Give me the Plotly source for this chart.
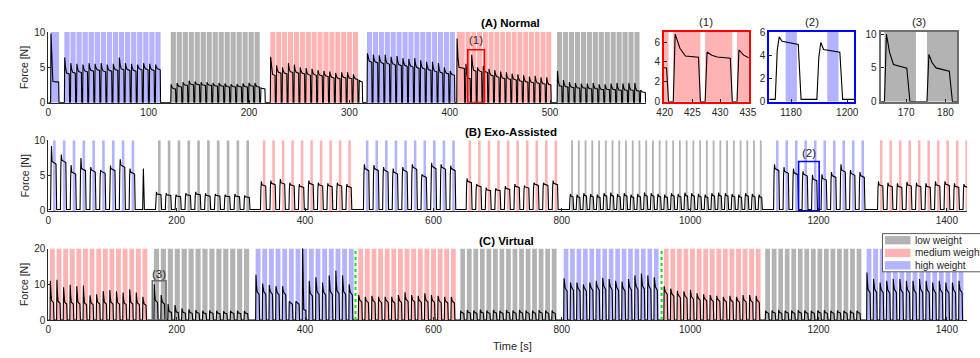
import plotly.graph_objects as go

W, H = 980, 358

# ---------------- colours per weight class ----------------
CLASS_COLOR = {'low': '#b3b3b3', 'med': '#ffb3b3', 'high': '#b3b3ff'}

# ---------------- Panel A (Normal) : blocks of lifting cycles ----------------
A_class = ['high', 'high', 'low', None, 'med', None, 'high', 'med', 'med', 'low', None]
A_start = [2.3, 16.0, 122.0, 211.5, 221.2, 309.5, 317.6, 407.0, 415.8, 507.0, 590.0]
A_end = [11.5, 112.7, 211.5, 216.5, 309.5, 313.5, 406.0, 415.8, 502.0, 590.0, 595.5]
A_peak = [
    [9.8],
    [6.4, 5.6, 5.5, 5.4, 5.6, 5.5, 5.6, 5.4, 5.5, 6.4, 5.6, 5.5, 5.4, 5.6, 5.5, 5.4],
    [2.6, 2.8, 2.9, 3.1, 3.0, 2.9, 2.9, 2.8, 2.8, 2.7, 2.6, 2.6, 2.7, 2.8, 2.8],
    [2.1],
    [6.5, 5.3, 5.0, 5.6, 5.4, 5.0, 4.9, 4.8, 4.6, 4.5, 4.4, 4.2, 4.3, 4.3, 4.0],
    [3.2],
    [7.0, 6.8, 6.7, 6.8, 6.5, 6.6, 6.3, 6.2, 6.3, 6.0, 5.8, 5.8, 5.6, 5.0, 4.5],
    [9.1],
    [5.5, 6.8, 5.0, 5.2, 4.8, 4.6, 4.4, 4.3, 4.1, 4.0, 3.9, 3.7, 3.8, 3.6, 3.6],
    [4.5, 3.2, 2.9, 2.8, 2.7, 2.7, 2.8, 2.6, 2.6, 2.7, 2.8, 2.7, 2.8, 2.8],
    [1.8],
]
A_plat = [
    [3.0],
    [4.2, 4.3, 4.4, 4.5, 4.6, 4.7, 4.5, 4.6, 4.7, 4.8, 4.7, 4.6, 4.8, 4.8, 4.7, 4.8],
    [2.0, 2.3, 2.5, 2.6, 2.6, 2.5, 2.5, 2.4, 2.4, 2.3, 2.3, 2.3, 2.3, 2.4, 2.3],
    [2.0],
    [4.0, 4.3, 4.2, 4.4, 4.3, 4.2, 4.0, 4.0, 3.9, 3.8, 3.6, 3.5, 3.6, 3.5, 3.4],
    [3.0],
    [5.9, 5.8, 5.7, 5.6, 5.5, 5.4, 5.3, 5.2, 5.0, 4.9, 4.7, 4.5, 4.3, 4.2, 4.0],
    [5.0],
    [3.5, 4.6, 4.5, 4.4, 3.9, 3.7, 3.5, 3.4, 3.3, 3.1, 3.0, 2.9, 2.8, 2.7, 2.6],
    [2.4, 2.3, 2.2, 2.1, 2.1, 2.0, 2.0, 1.9, 1.9, 1.9, 1.8, 1.8, 1.8, 1.7],
    [1.5],
]

# ---------------- Panel B (Exo-Assisted) ----------------
B_class = ['high', None, 'low', 'med', 'high', 'med', 'low', 'high', 'med']
B_start = [3.5, 147.0, 167.0, 330.5, 491.0, 651.0, 812.0, 1130.0, 1292.0]
B_end = [141.2, 151.5, 320.0, 478.5, 640.5, 800.0, 1116.5, 1278.0, 1440.0]
B_peak = [
    [9.2, 8.0, 6.5, 7.5, 6.2, 5.8, 6.4, 7.3, 6.0],
    [6.0],
    [2.7, 2.5, 2.3, 2.5, 2.7, 2.5, 2.4, 2.3, 2.4, 2.2],
    [4.2, 4.3, 4.5, 4.0, 3.8, 4.3, 4.0, 3.9, 4.0, 3.8],
    [6.6, 6.5, 6.2, 6.0, 6.2, 6.6, 5.2, 6.8, 6.6, 6.4],
    [4.6, 3.8, 3.3, 3.2, 3.5, 3.8, 3.6, 4.0, 4.0, 4.3],
    [2.4, 2.3, 2.5, 2.4, 2.3, 2.5, 2.6, 2.4, 2.5, 2.3, 2.4, 2.6, 2.5, 2.4, 2.3,
     2.5, 2.4, 2.6, 2.5, 2.4, 2.3, 2.5, 2.6, 2.5, 2.4, 2.3, 2.5, 2.4, 2.3],
    [6.6, 6.2, 6.0, 5.6, 5.1, 5.2, 5.5, 6.6, 5.8, 5.5],
    [4.2, 4.0, 3.9, 4.1, 4.0, 3.9, 4.2, 4.2, 3.9, 3.8],
]
B_plat = [
    [7.0, 7.2, 5.5, 6.0, 5.8, 5.6, 6.0, 6.5, 5.5],
    [1.0],
    [2.4, 2.3, 2.1, 2.3, 2.4, 2.2, 2.2, 2.1, 2.1, 2.0],
    [3.7, 3.9, 4.0, 3.7, 3.5, 3.9, 3.7, 3.6, 3.7, 3.5],
    [6.0, 6.0, 5.8, 5.5, 5.8, 6.2, 5.0, 6.3, 6.2, 6.0],
    [4.2, 3.6, 3.0, 3.0, 3.2, 3.5, 3.4, 3.8, 3.8, 3.9],
    [2.1, 2.0, 2.2, 2.1, 2.0, 2.2, 2.2, 2.1, 2.2, 2.0, 2.1, 2.2, 2.2, 2.1, 2.0,
     2.2, 2.1, 2.2, 2.2, 2.1, 2.0, 2.2, 2.2, 2.2, 2.1, 2.0, 2.2, 2.1, 2.0],
    [6.0, 5.6, 5.4, 5.2, 4.5, 4.6, 5.0, 5.8, 5.3, 5.0],
    [3.7, 3.6, 3.5, 3.7, 3.6, 3.5, 3.7, 3.8, 3.5, 3.5],
]

# ---------------- Panel C (Virtual) ----------------
C_class = ['med', 'low', 'high', 'med', 'low', 'high', 'med', 'low', 'high']
C_start = [2.6, 164.5, 323.0, 483.0, 642.0, 803.0, 959.0, 1117.0, 1275.0]
C_end = [157.1, 315.7, 478.6, 637.6, 794.6, 953.6, 1112.6, 1269.6, 1428.6]
C_peak = [
    [11.0, 11.3, 9.2, 9.9, 9.5, 9.7, 6.9, 7.2, 8.1, 8.4, 8.1, 7.7, 8.6, 7.7, 6.5],
    [10.0, 7.0, 4.5, 4.2, 3.3, 3.0, 2.8, 2.6, 2.7, 2.6, 2.5, 2.6, 2.6, 2.5],
    [12.7, 10.2, 9.8, 9.5, 9.5, 5.2, 5.2, 22.0, 11.0, 12.0, 10.5, 12.5, 13.8, 12.5, 10.0],
    [7.0, 6.5, 6.8, 6.5, 6.5, 6.5, 7.0, 7.8, 7.0, 6.8, 7.5, 7.0, 6.8, 6.5, 6.5],
    [2.6, 2.8, 2.7, 2.9, 2.7, 2.8, 2.6, 2.8, 2.7, 2.8, 2.7, 2.6, 2.8, 2.7, 2.7],
    [11.7, 10.5, 10.5, 10.0, 10.5, 11.0, 11.8, 11.5, 11.0, 10.8, 11.5, 12.5, 13.0, 12.5, 12.0],
    [9.5, 8.8, 8.2, 8.0, 8.5, 7.5, 7.2, 7.0, 6.8, 6.5, 6.8, 6.5, 7.0, 7.0, 6.8],
    [2.6, 2.7, 2.8, 2.6, 2.7, 2.8, 2.7, 2.6, 2.7, 2.8, 2.6, 2.7, 2.6, 2.7, 2.6],
    [13.3, 11.5, 10.5, 11.0, 11.5, 11.5, 11.0, 11.0, 11.5, 11.0, 10.5, 11.0, 10.5, 10.5, 11.0],
]
C_plat = [
    [5.5, 5.2, 5.0, 5.0, 5.0, 4.8, 4.8, 5.0, 5.0, 5.0, 4.9, 4.8, 5.0, 4.8, 4.6],
    [5.5, 5.0, 2.4, 2.3, 2.2, 2.1, 2.1, 2.0, 2.1, 2.0, 2.0, 2.1, 2.0, 2.0],
    [8.0, 8.0, 8.0, 7.8, 7.8, 4.9, 4.9, 3.0, 7.5, 8.0, 7.8, 8.0, 8.2, 8.0, 7.8],
    [5.6, 5.4, 5.5, 5.4, 5.5, 5.3, 5.5, 5.8, 5.6, 5.5, 5.6, 5.5, 5.4, 5.3, 5.3],
    [2.1, 2.2, 2.1, 2.2, 2.1, 2.2, 2.1, 2.2, 2.1, 2.2, 2.1, 2.1, 2.2, 2.1, 2.1],
    [9.0, 9.2, 9.0, 9.0, 9.2, 9.3, 9.5, 9.4, 9.2, 9.0, 9.3, 9.5, 9.6, 9.5, 9.3],
    [8.0, 7.4, 7.0, 6.8, 6.5, 6.2, 6.0, 5.8, 5.8, 5.6, 5.6, 5.5, 5.6, 5.5, 5.5],
    [2.1, 2.2, 2.1, 2.2, 2.1, 2.2, 2.1, 2.1, 2.2, 2.1, 2.1, 2.2, 2.1, 2.1, 2.1],
    [8.5, 8.6, 8.5, 8.4, 8.6, 8.5, 8.5, 8.4, 8.6, 8.5, 8.4, 8.5, 8.4, 8.5, 8.5],
]

# markers of zoomed regions and session separators
ZOOM1 = dict(t0=418.0, t1=434.6, top=7.5)
ZOOM2 = dict(t0=1169.0, t1=1201.0, top=7.0)
ZOOM3 = dict(t0=162.0, t1=183.4, top=11.0)
C_separators = [478.6, 955.5]

A_xticks = [0, 100, 200, 300, 400, 500]
BC_xticks = [0, 200, 400, 600, 800, 1000, 1200, 1400]


def build(kind, classes, starts, ends, peaks, plats):
    """Turn per-cycle readings into a force polyline and shaded hold strips."""
    base = 0.2 if kind == 'exo' else 0.0
    tx, ty = [0.0], [base]
    strips = {'low': [], 'med': [], 'high': []}
    for cls, t0, t1, pk_l, pl_l in zip(classes, starts, ends, peaks, plats):
        n = len(pk_l)
        P = (t1 - t0) / n
        for k in range(n):
            s = t0 + k * P
            pk, pl = pk_l[k], pl_l[k]
            if kind == 'hold':
                e = s + P - (0.85 if cls else 0.3)
                strip = (s, e)
                pts = [(s, 0), (s + 0.35, pk), (s + 1.2, pl + 0.35 * (pk - pl)),
                       (s + 2.2, pl), (e - 0.35, pl * 0.97), (e, 0)]
            elif kind == 'exo':
                on = 0.62 * P if cls else P * 0.6
                strip = (s + 0.25 * P, s + 0.52 * P)
                if cls:
                    pts = [(s, base), (s + 0.7, pl * 0.85), (s + 1.4, pk), (s + 2.4, pl),
                           (s + on - 1.0, pl * 0.95), (s + on, base)]
                else:
                    pts = [(s, base), (s + 0.4 * on, pk), (s + 0.7 * on, pl), (s + on, base)]
            else:  # virtual
                on = 0.6 * P
                strip = (s, s + P - 2.8)
                pts = [(s, 0), (s + 0.5, pk), (s + 1.3, pl + 0.4 * (pk - pl)),
                       (s + 2.3, pl), (s + on - 0.8, pl * 0.9), (s + on, 0)]
            if cls:
                strips[cls].append(strip)
            for x, y in pts:
                tx.append(x)
                ty.append(y)
    return tx, ty, strips


A_tx, A_ty, A_strips = build('hold', A_class, A_start, A_end, A_peak, A_plat)
B_tx, B_ty, B_strips = build('exo', B_class, B_start, B_end, B_peak, B_plat)
C_tx, C_ty, C_strips = build('virt', C_class, C_start, C_end, C_peak, C_plat)

fig = go.Figure()


def add_panel(tx, ty, strips, xa, ya, ymax):
    for cls in ['low', 'med', 'high']:
        xs, ys = [], []
        for s, e in strips[cls]:
            xs += [s, e, e, s, s, None]
            ys += [0, 0, ymax, ymax, 0, None]
        fig.add_trace(go.Scatter(x=xs, y=ys, fill='toself', fillcolor=CLASS_COLOR[cls],
                                 mode='none', xaxis=xa, yaxis=ya, showlegend=False,
                                 hoverinfo='skip'))
    fig.add_trace(go.Scatter(x=tx, y=ty, mode='lines', line=dict(color='black', width=1.1),
                             xaxis=xa, yaxis=ya, showlegend=False, hoverinfo='skip'))


add_panel(A_tx, A_ty, A_strips, 'x', 'y', 10)
add_panel(A_tx, A_ty, A_strips, 'x2', 'y2', 7)
add_panel(B_tx, B_ty, B_strips, 'x3', 'y3', 6)
add_panel(C_tx, C_ty, C_strips, 'x4', 'y4', 10.3)
add_panel(B_tx, B_ty, B_strips, 'x5', 'y5', 10)
add_panel(C_tx, C_ty, C_strips, 'x6', 'y6', 20)

FONT = 'Liberation Sans, Arial, sans-serif'
TXT = '#262626'


def px(x):
    return x / W


def py(y):
    return 1 - y / H


def main_axis(domain, rng, tickvals, anchor):
    return dict(domain=domain, range=rng, tickvals=tickvals, anchor=anchor,
                showline=True, linecolor=TXT, linewidth=1, mirror=False,
                ticks='inside', ticklen=3, tickcolor=TXT, showgrid=False, zeroline=False,
                tickfont=dict(size=10, color=TXT, family=FONT))


def zoom_axis(domain, rng, tickvals, anchor, color):
    return dict(domain=domain, range=rng, tickvals=tickvals, anchor=anchor,
                showline=True, linecolor=color, linewidth=2, mirror=True,
                ticks='inside', ticklen=3, tickcolor=TXT, showgrid=False, zeroline=False,
                tickfont=dict(size=10, color=TXT, family=FONT))


layout = dict(
    width=W, height=H, margin=dict(l=0, r=0, t=0, b=0),
    paper_bgcolor='white', plot_bgcolor='white', showlegend=False,
    font=dict(family=FONT, color=TXT),
    xaxis=main_axis([px(41), px(649)], [0, 596], A_xticks, 'y'),
    yaxis=main_axis([py(100), py(27)], [0, 10], [0, 5, 10], 'x'),
    xaxis2=zoom_axis([px(667), px(753)], [419.9, 435.15], [420, 425, 430, 435], 'y2', '#ff0000'),
    yaxis2=zoom_axis([py(99), py(27)], [0, 7], [0, 2, 4, 6], 'x2', '#ff0000'),
    xaxis3=zoom_axis([px(774), px(860)], [1172.3, 1202.4], [1180, 1200], 'y3', '#0000ff'),
    yaxis3=zoom_axis([py(99), py(27)], [0, 6], [0, 2, 4, 6], 'x3', '#0000ff'),
    xaxis4=zoom_axis([px(887), px(965)], [163.5, 183], [170, 180], 'y4', '#6e6e6e'),
    yaxis4=zoom_axis([py(99), py(27)], [0, 10.3], [0, 5, 10], 'x4', '#6e6e6e'),
    xaxis5=main_axis([px(41), px(975)], [0, 1431.5], BC_xticks, 'y5'),
    yaxis5=main_axis([py(212), py(139)], [0, 10], [0, 5, 10], 'x5'),
    xaxis6=main_axis([px(41), px(975)], [0, 1431.5], BC_xticks, 'y6'),
    yaxis6=main_axis([py(325), py(251)], [0, 20], [0, 10, 20], 'x6'),
)
fig.update_layout(**layout)

shapes = []
# zoom-region boxes
for z, xr, yr, col in [(ZOOM1, 'x', 'y', '#ff0000'), (ZOOM2, 'x5', 'y5', '#0000ff'),
                       (ZOOM3, 'x6', 'y6', '#6e6e6e')]:
    shapes.append(dict(type='rect', xref=xr, yref=yr, x0=z['t0'], x1=z['t1'], y0=0, y1=z['top'],
                       line=dict(color=col, width=1.6), layer='above'))
# session separators in (C)
for t in C_separators:
    shapes.append(dict(type='line', xref='x6', yref='y6', x0=t, x1=t, y0=0, y1=19.6,
                       line=dict(color='#00e600', width=2, dash='dot'), layer='above'))
# legend box
shapes.append(dict(type='rect', xref='paper', yref='paper', x0=px(889), x1=px(1000),
                   y0=py(275), y1=py(235.5), line=dict(color='#5a5a5a', width=1),
                   fillcolor='white', layer='above'))
legend_rows = [('low', 'low weight', 242.3), ('med', 'medium weight', 255.5),
               ('high', 'high weight', 268.3)]
for cls, _, yc in legend_rows:
    shapes.append(dict(type='rect', xref='paper', yref='paper', x0=px(891.5), x1=px(917.5),
                       y0=py(yc + 4.3), y1=py(yc - 4.3), line=dict(width=0),
                       fillcolor=CLASS_COLOR[cls], layer='above'))
fig.update_layout(shapes=shapes)

ann = []


def text(x, y, s, size=10.5, bold=False, angle=0, xanchor='center', color=TXT):
    ann.append(dict(x=x, y=y, xref='paper', yref='paper', text=('<b>%s</b>' % s) if bold else s,
                    showarrow=False, xanchor=xanchor, yanchor='middle', textangle=angle,
                    font=dict(size=size, color=color, family=FONT)))


for _, label, yc in legend_rows:
    text(px(920.5), py(yc), label, size=10, xanchor='left')

text(px(511), py(17.5), '(A) Normal', size=11.5, bold=True, color='black')
text(px(511), py(130.5), '(B) Exo-Assisted', size=11.5, bold=True, color='black')
text(px(507), py(243.3), '(C) Virtual', size=11.5, bold=True, color='black')
text(px(710), py(16.5), '(1)', size=11.5)
text(px(817), py(16.5), '(2)', size=11.5)
text(px(926), py(16.5), '(3)', size=11.5)
text(px(475.8), py(35), '(1)', size=11.5)
text(px(814.5), py(152), '(2)', size=11.5)
text(px(153.7), py(277), '(3)', size=11.5)
for yc in [63.5, 175.5, 288]:
    text(px(17), py(yc), 'Force [N]', size=10.5, angle=-90)
text(px(513), py(352), 'Time [s]', size=11)

fig.update_layout(annotations=ann)
fig.write_html('out.html')
